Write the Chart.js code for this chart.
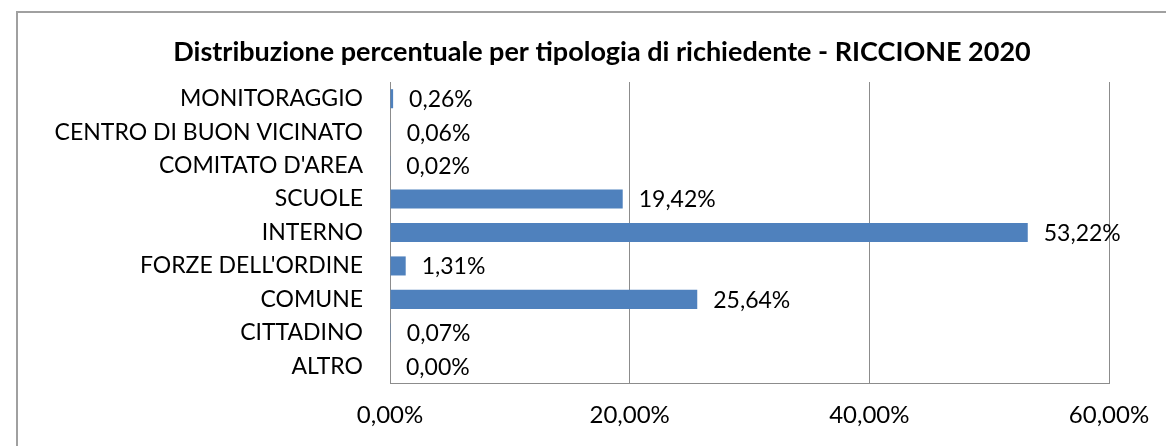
<!DOCTYPE html>
<html>
<head>
<meta charset="utf-8">
<script src="https://cdn.jsdelivr.net/npm/chart.js@4/dist/chart.umd.min.js"></script>
<style>
    body { margin: 0; width: 1166px; height: 446px; overflow: hidden; background: #fff; position: relative; }
    #frame { position: absolute; left: 16px; top: 11px; width: 1200px; height: 500px; border: 2px solid #a0a0a0; }
    #chart { position: absolute; left: 0; top: 0; }
</style>
</head>
<body>
<div id="frame"></div>
<canvas id="chart" width="1204" height="446"></canvas>
<script>
const chartTitle = 'Distribuzione percentuale per tipologia di richiedente - RICCIONE 2020';
const categories = ['MONITORAGGIO', 'CENTRO DI BUON VICINATO', "COMITATO D'AREA", 'SCUOLE', 'INTERNO', "FORZE DELL'ORDINE", 'COMUNE', 'CITTADINO', 'ALTRO'];
const percentages = [0.26, 0.06, 0.02, 19.42, 53.22, 1.31, 25.64, 0.07, 0.00];
const tickValues = [0, 20, 40, 60];

const fontFamily = "Lato, 'Open Sans', sans-serif";

function formatPercent(v) {
    return v.toFixed(2).replace('.', ',') + '%';
}

// value labels to the right of each bar + title centred on the outer frame
const barLabels = {
    id: 'barLabels',
    afterDatasetsDraw(chart) {
        const ctx = chart.ctx;
        const meta = chart.getDatasetMeta(0);
        ctx.save();
        ctx.font = '23px ' + fontFamily;
        ctx.fillStyle = '#000';
        ctx.textAlign = 'left';
        ctx.textBaseline = 'middle';
        meta.data.forEach((bar, i) => {
            ctx.fillText(formatPercent(percentages[i]), bar.x + 16, bar.y + 1);
        });

        ctx.font = 'bold 27px ' + fontFamily;
        ctx.textAlign = 'center';
        ctx.fillText(chartTitle, 602, 52);
        ctx.restore();
    }
};

const ctx = document.getElementById('chart').getContext('2d');
new Chart(ctx, {
    type: 'bar',
    data: {
        labels: categories,
        datasets: [{
            label: 'Percentuale',
            data: percentages,
            backgroundColor: '#4f81bd',
            borderWidth: 0,
            barPercentage: 0.57,
            categoryPercentage: 1
        }]
    },
    options: {
        indexAxis: 'y',
        responsive: false,
        animation: false,
        layout: {
            padding: { left: 0, right: 95, top: 82, bottom: 0 }
        },
        plugins: {
            legend: { display: false },
            tooltip: { enabled: false },
            title: { display: false }
        },
        scales: {
            x: {
                min: 0,
                max: 60,
                afterBuildTicks(scale) {
                    scale.ticks = tickValues.map(v => ({ value: v }));
                },
                afterFit(scale) {
                    scale.height = 446 - 383;
                },
                grid: { color: '#8c8c8c', lineWidth: 1, drawTicks: false },
                border: { display: true, color: '#8c8c8c', width: 1 },
                ticks: {
                    padding: 18,
                    color: '#000',
                    font: { family: fontFamily, size: 24 },
                    callback: v => formatPercent(v)
                }
            },
            y: {
                afterFit(scale) {
                    scale.width = 390;
                },
                grid: { display: false, drawTicks: false },
                border: { display: true, color: '#8c8c8c', width: 1 },
                ticks: {
                    padding: 27,
                    color: '#000',
                    font: { family: fontFamily, size: 23 }
                }
            }
        }
    },
    plugins: [barLabels]
});
</script>
</body>
</html>
